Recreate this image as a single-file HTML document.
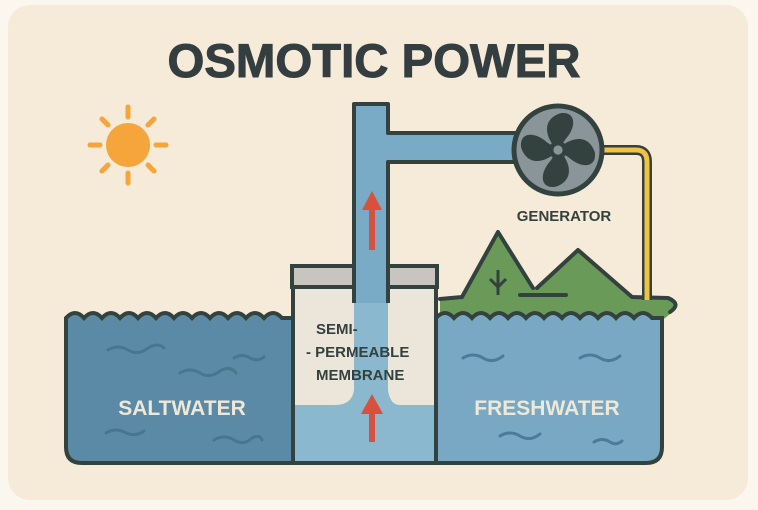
<!DOCTYPE html>
<html><head><meta charset="utf-8"><style>html,body{margin:0;padding:0;background:#fbf6ee}svg{display:block}</style></head>
<body>
<svg width="758" height="510" viewBox="0 0 758 510" xmlns="http://www.w3.org/2000/svg" font-family="Liberation Sans, sans-serif">
<rect x="0" y="0" width="758" height="510" fill="#fbf6ee"/>
<rect x="8" y="5" width="740" height="495" rx="22" fill="#f6ead8"/>
<text x="374" y="77" text-anchor="middle" font-size="47" font-weight="bold" fill="#343e41" stroke="#343e41" stroke-width="1" textLength="413" lengthAdjust="spacingAndGlyphs">OSMOTIC POWER</text>
<!-- sun -->
<g stroke="#f5a53a" stroke-width="5" stroke-linecap="round">
<line x1="128" y1="107" x2="128" y2="117"/><line x1="128" y1="173" x2="128" y2="183"/>
<line x1="90" y1="145" x2="100" y2="145"/><line x1="156" y1="145" x2="166" y2="145"/>
<line x1="102" y1="119" x2="108" y2="125"/><line x1="148" y1="165" x2="154" y2="171"/>
<line x1="154" y1="119" x2="148" y2="125"/><line x1="102" y1="171" x2="108" y2="165"/>
</g>
<circle cx="128" cy="145" r="22" fill="#f5a53a"/>
<!-- saltwater tank -->
<path d="M66 318 q9 -10 18 0 q9 -10 18 0 q9 -10 18 0 q9 -10 18 0 q9 -10 18 0 q9 -10 18 0 q9 -10 18 0 q9 -10 18 0 q9 -10 18 0 q9 -10 18 0 q9 -10 18 0 q9 -10 18 0 L295 318 L295 463 L82 463 Q66 463 66 447 Z" fill="#5b8aa6" stroke="#33413f" stroke-width="4"/>
<g stroke="#47768f" stroke-width="3" fill="none" stroke-linecap="round">
<path d="M108 350 q10 -6 20 0 q10 6 20 -2 q10 -6 16 0"/><path d="M180 373 q10 -6 20 0 q10 6 20 -2 q10 -6 16 2"/>
<path d="M234 358 q8 -5 16 0 q8 4 14 -1"/><path d="M106 433 q10 -6 20 0 q10 4 18 -2"/><path d="M214 440 q10 -6 20 0 q10 6 18 -2 q8 -4 10 2"/>
</g>
<text x="182" y="415" text-anchor="middle" font-size="21" font-weight="bold" fill="#efe8d6">SALTWATER</text>
<!-- land (behind water) -->
<path d="M440 300 L462 297 L498 232 L533 288 L540 288 L578 250 L632 297 L668 298 Q682 304 670 314 L660 322 L440 322 Z" fill="#6a9a58"/>
<path d="M440 299 L462 297 M462 297 L498 232 L533 288 M537 288 L578 250 L632 297 L668 298 Q682 304 670 312 M520 295 L566 295" fill="none" stroke="#33413f" stroke-width="4" stroke-linejoin="round" stroke-linecap="round"/>
<path d="M498 295 V270 M490 279 L498 287 L506 279" fill="none" stroke="#33413f" stroke-width="3"/>
<!-- freshwater tank -->
<path d="M436 318 q9 -10 18 0 q9 -10 18 0 q9 -10 18 0 q9 -10 18 0 q9 -10 18 0 q9 -10 18 0 q9 -10 18 0 q9 -10 18 0 q9 -10 18 0 q9 -10 18 0 q9 -10 18 0 q9 -10 18 0 L662 318 L662 447 Q662 463 646 463 L436 463 Z" fill="#78a8c4" stroke="#33413f" stroke-width="4"/>
<g stroke="#4a7b98" stroke-width="3" fill="none" stroke-linecap="round">
<path d="M463 358 q10 -6 20 0 q10 6 20 -2"/><path d="M580 358 q10 -6 20 0 q10 6 20 -2"/>
<path d="M500 436 q10 -6 20 0 q10 6 20 -2"/><path d="M594 442 q8 -5 16 0 q6 4 12 -1"/>
</g>
<text x="547" y="415" text-anchor="middle" font-size="21" font-weight="bold" fill="#efe8d6">FRESHWATER</text>
<!-- middle chamber -->
<rect x="293" y="287" width="143" height="176" fill="#ece6da" stroke="#33413f" stroke-width="4"/>
<rect x="295" y="405" width="139" height="56" fill="#8ab8cf"/>
<path d="M354 300 L354 390 Q352 405 335 405 L400 405 Q390 405 388 390 L388 300 Z" fill="#8ab8cf"/>
<rect x="292" y="266" width="145" height="21" fill="#c8c5bf" stroke="#33413f" stroke-width="4"/>
<line x1="293" y1="463" x2="293" y2="287" stroke="#33413f" stroke-width="4"/>
<!-- pipe -->
<path d="M354 303 L354 104 L388 104 L388 133 L520 133 L520 162 L388 162 L388 303" fill="#79aac6" stroke="#33413f" stroke-width="4" stroke-linejoin="round"/>
<rect x="356" y="130" width="30" height="170" fill="#79aac6"/>
<!-- arrows -->
<g fill="#d9503c">
<rect x="369" y="206" width="6" height="44"/><path d="M362 210 L372 191 L382 210 Z"/>
<rect x="369" y="412" width="6" height="30"/><path d="M361 414 L372 394 L383 414 Z"/>
</g>
<text font-size="15" font-weight="bold" fill="#33413f"><tspan x="316" y="334">SEMI-</tspan><tspan x="306" y="357">- PERMEABLE</tspan><tspan x="316" y="380">MEMBRANE</tspan></text>
<!-- cable -->
<path d="M598 150 L636 150 Q647 150 647 162 L647 300" fill="none" stroke="#33413f" stroke-width="10"/>
<path d="M598 150 L636 150 Q647 150 647 162 L647 300" fill="none" stroke="#f2c244" stroke-width="5"/>
<!-- generator -->
<circle cx="558" cy="150" r="44" fill="#8a9599" stroke="#33413f" stroke-width="5"/>
<g fill="#33413f" transform="translate(558 150) scale(1.15)">
<path d="M0 0 C-10 -8 -16 -26 2 -32 C16 -34 16 -20 7 -10 Z"/>
<path d="M0 0 C-10 -8 -16 -26 2 -32 C16 -34 16 -20 7 -10 Z" transform="rotate(90)"/>
<path d="M0 0 C-10 -8 -16 -26 2 -32 C16 -34 16 -20 7 -10 Z" transform="rotate(180)"/>
<path d="M0 0 C-10 -8 -16 -26 2 -32 C16 -34 16 -20 7 -10 Z" transform="rotate(270)"/>
<circle r="8"/><circle r="4" fill="#8a9599"/>
</g>
<text x="564" y="221" text-anchor="middle" font-size="15" font-weight="bold" fill="#33413f">GENERATOR</text>
</svg>
</body></html>
